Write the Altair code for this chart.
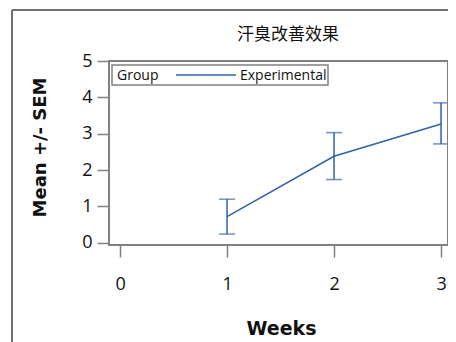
import altair as alt
import pandas as pd

weeks = [1, 2, 3]
means = [0.72, 2.38, 3.27]
lower = [0.24, 1.74, 2.72]
upper = [1.20, 3.03, 3.85]
group = ["Experimental", "Experimental", "Experimental"]

title_text = "汗臭改善效果"
legend_title = "Group"
x_title = "Weeks"
y_title = "Mean +/- SEM"
x_ticks = [0, 1, 2, 3]
y_ticks = [0, 1, 2, 3, 4, 5]

df = pd.DataFrame({"Weeks": weeks, "Mean": means, "Lower": lower,
                   "Upper": upper, "Group": group})

BLUE = "#2f62a8"
GRAY = "#808080"
W, H = 339, 184

xs = alt.Scale(domain=[-0.103, 3.065], nice=False, zero=False)
ys = alt.Scale(domain=[-0.06, 5.0], nice=False, zero=False)

xaxis = alt.Axis(values=x_ticks, title=x_title, grid=False, domain=False,
                 tickSize=12, tickColor=GRAY, tickWidth=1.5, labelOverlap=False,
                 labelFont="Open Sans", labelFontSize=18, labelColor="#111",
                 labelPadding=18,
                 titleFont="DejaVu Sans", titleFontSize=19, titleFontWeight="bold",
                 titleColor="#111", titleX=172, titleY=83, titleBaseline="middle",
                 titleAlign="center", format="d")
yaxis = alt.Axis(values=y_ticks, title=y_title, grid=False, domain=False,
                 tickSize=12, tickColor=GRAY, tickWidth=1.5, labelOverlap=False,
                 labelFont="Open Sans", labelFontSize=18, labelColor="#111",
                 labelPadding=5,
                 titleFont="DejaVu Sans", titleFontSize=18, titleFontWeight="bold",
                 titleColor="#111", titleX=-69, titleY=H / 2 - 6, titleAngle=-90,
                 titleAlign="center", titleBaseline="middle", format="d")

base = alt.Chart(df)
X = alt.X("Weeks:Q", scale=xs, axis=xaxis)

line = base.mark_line(strokeWidth=1.5, color=BLUE).encode(
    x=X, y=alt.Y("Mean:Q", scale=ys, axis=yaxis), detail="Group:N")
bars = base.mark_rule(color=BLUE, strokeWidth=1.5).encode(
    x=X, y=alt.Y("Lower:Q", scale=ys, axis=yaxis), y2="Upper:Q")
cap_lo = base.mark_tick(color=BLUE, thickness=1.5, size=16, orient="horizontal").encode(
    x=X, y=alt.Y("Lower:Q", scale=ys, axis=yaxis))
cap_hi = base.mark_tick(color=BLUE, thickness=1.5, size=16, orient="horizontal").encode(
    x=X, y=alt.Y("Upper:Q", scale=ys, axis=yaxis))

one = pd.DataFrame({"a": [0]})
frame = alt.Chart(one).mark_rect(fill=None, stroke=GRAY, strokeWidth=2).encode(
    x=alt.value(0), x2=alt.value(W), y=alt.value(0), y2=alt.value(H))
border_v = alt.Chart(one).mark_rule(color="#707070", strokeWidth=2).encode(
    x=alt.value(-97), y=alt.value(-51), y2=alt.value(300))
border_h = alt.Chart(one).mark_rule(color="#707070", strokeWidth=2).encode(
    x=alt.value(-97), x2=alt.value(400), y=alt.value(-51))

title = alt.Chart(one).mark_text(font="Noto Sans CJK SC", fontSize=17, color="#111",
                                 align="center", baseline="middle").encode(
    x=alt.value(179), y=alt.value(-26), text=alt.value(title_text))

# legend (inside plot, top-left)
leg_df = pd.DataFrame({"Group": [group[0]]})
leg_box = alt.Chart(leg_df).mark_rect(fill="white", stroke=GRAY, strokeWidth=1.5).encode(
    x=alt.value(3), x2=alt.value(219), y=alt.value(4), y2=alt.value(24))
leg_title = alt.Chart(leg_df).mark_text(font="Open Sans", fontSize=14, color="#111",
                                        align="left", baseline="middle").encode(
    x=alt.value(8), y=alt.value(14.5), text=alt.value(legend_title))
leg_line = alt.Chart(leg_df).mark_rule(color=BLUE, strokeWidth=1.5).encode(
    x=alt.value(67), x2=alt.value(127), y=alt.value(14))
leg_label = alt.Chart(leg_df).mark_text(font="Open Sans", fontSize=14, color="#111",
                                        align="left", baseline="middle").encode(
    x=alt.value(131), y=alt.value(14.5), text="Group:N")

chart = alt.layer(line, bars, cap_lo, cap_hi, frame, border_v, border_h, title,
                  leg_box, leg_title, leg_line, leg_label).properties(
    width=W, height=H,
    autosize=alt.AutoSizeParams(type="none"),
    padding={"left": 101, "top": 53, "right": 0, "bottom": 97},
).configure_view(strokeWidth=0).configure(background="white")

chart.save("out.html", embed_options={"renderer": "svg", "actions": False})
